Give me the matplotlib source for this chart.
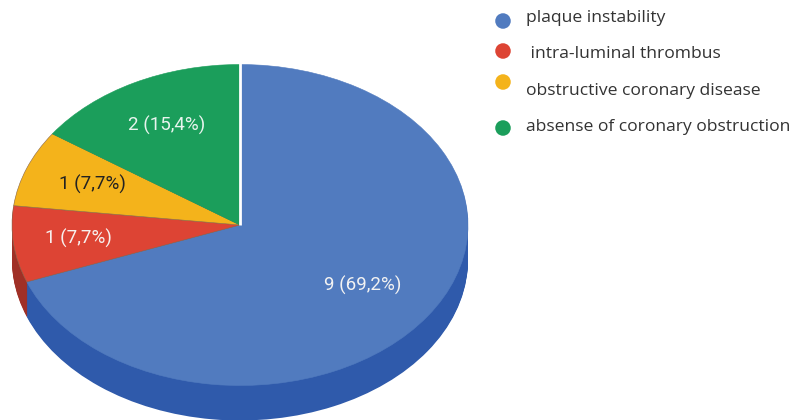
import numpy as np
import matplotlib
matplotlib.use("Agg")
import matplotlib.pyplot as plt

categories = ["plaque instability", " intra-luminal thrombus",
              "obstructive coronary disease", "absense of coronary obstruction"]
values = [9, 1, 1, 2]
pie_labels = ["9 (69,2%)", "1 (7,7%)", "1 (7,7%)", "2 (15,4%)"]
colors = ["#517bbf", "#dd4434", "#f4b31b", "#1b9e5b"]
side_colors = ["#2f5aab", "#a03026", "#f4b31b", "#1b9e5b"]
label_colors = ["#f2f2f2", "#f7f0ee", "#222222", "#e8f4ee"]

W, H = 793, 420
cx, cy, rx, ry, depth = 240, 225, 228, 160.5, 35

fig = plt.figure(figsize=(W / 100, H / 100), dpi=100)
ax = fig.add_axes([0, 0, 1, 1])

# side of the pie: same pie stacked downwards in darker colours
for d in np.arange(depth, 0, -1):
    ax.pie(values, colors=side_colors, startangle=90, counterclock=False,
           center=(0, -d / ry), wedgeprops=dict(linewidth=0))
wedges, _ = ax.pie(values, colors=colors, startangle=90, counterclock=False,
                   wedgeprops=dict(linewidth=0.4, edgecolor="#8a6a50"))
wedges[0].set_edgecolor(colors[0])
wedges[3].set_edgecolor(colors[3])
ax.plot([0, 0], [0, 1.02], color="white", lw=2, solid_capstyle="butt")

ax.set_aspect("auto")
ax.set_xlim(-cx / rx, (W - cx) / rx)
ax.set_ylim((cy - H) / ry, cy / ry)
ax.axis("off")

# overlay in pixel coordinates for the texts and legend
over = fig.add_axes([0, 0, 1, 1])
over.set_xlim(0, W)
over.set_ylim(H, 0)
over.axis("off")

label_pos = [(363, 285), (78, 238), (92, 184), (167, 125)]
for txt, (x, y), c in zip(pie_labels, label_pos, label_colors):
    over.text(x, y, txt, color=c, ha="center", va="center", fontsize=13.5, family="Roboto")

dot_y = [21, 51, 82, 128]
text_y = [18, 54, 91, 127]
text_x = [526, 526, 526, 526]
over.scatter([503] * 4, dot_y, s=125, c=colors, linewidths=0)
for name, x, y in zip(categories, text_x, text_y):
    over.text(x, y, name, color="#333333", ha="left", va="center", fontsize=12.6, family="Open Sans")

fig.savefig("out.png", dpi=100)
